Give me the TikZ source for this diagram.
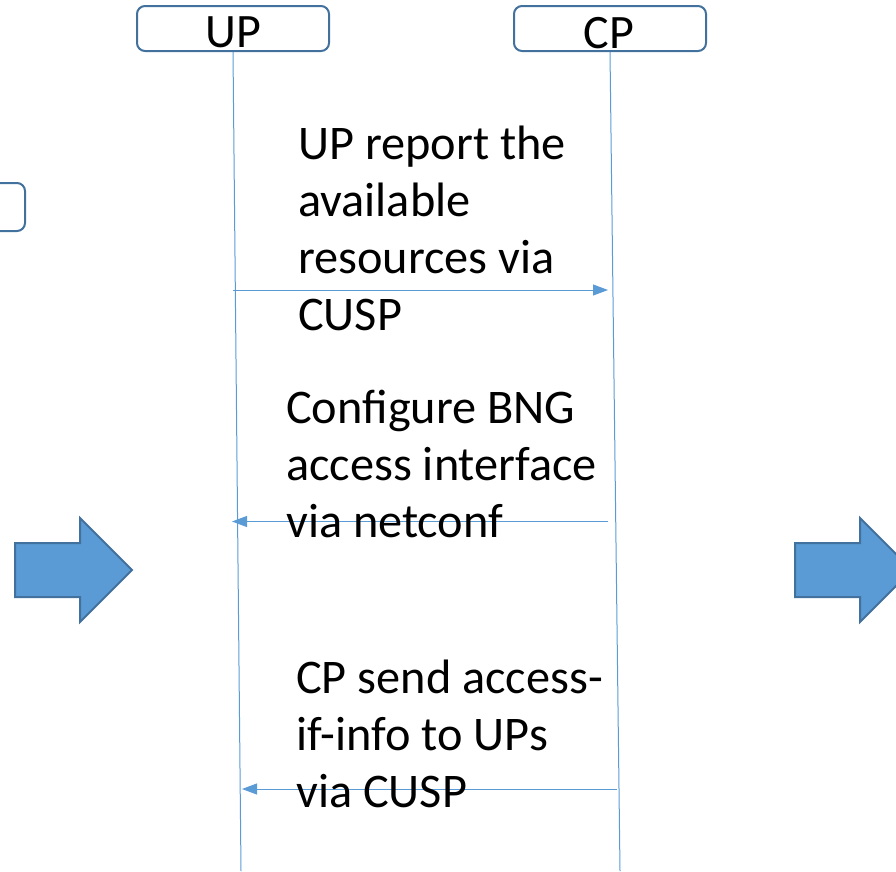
\documentclass[tikz,border=0pt]{standalone}
\usepackage{fontspec}
\setmainfont{Carlito}
\usetikzlibrary{arrows.meta}
\definecolor{lineblue}{HTML}{5B9BD5}
\definecolor{edgeblue}{HTML}{41719C}
\definecolor{fillblue}{HTML}{5B9BD5}
\tikzset{
  actor/.style={draw=edgeblue, line width=2pt, rounded corners=8pt, minimum width=192pt, minimum height=45pt, inner sep=0pt},
  actorlabel/.style={font=\fontsize{48}{50}\selectfont, anchor=base, inner sep=0pt},
  lifeline/.style={draw=lineblue, line width=1pt},
  msg/.style={draw=lineblue, line width=1pt, -{Triangle[length=15pt,width=11pt]}},
  msgtext/.style={font=\fontsize{48.3}{57}\selectfont, align=left, anchor=base west, inner sep=0pt},
  blockarrow/.style={fill=fillblue, draw=edgeblue, line width=2pt, line join=miter}
}
\begin{document}
\begin{tikzpicture}[x=1pt,y=-1pt]
\useasboundingbox (0,0) rectangle (896,871);
% actors
\node[actor] (up) at (233,28.5) {};
\node[actor] (cp) at (610,28.5) {};
\node[actorlabel] (uplbl) at (233,47) {UP};
\node[actorlabel] (cplbl) at (609,48) {CP};
% partial box at left
\draw[draw=edgeblue, line width=2pt, rounded corners=8pt] (-20,183) -- (25,183) -- (25,231) -- (-20,231);
% lifelines
\coordinate (upbot) at (241,871);
\coordinate (cpbot) at (620,871);
\draw[lifeline] (up.south) -- (upbot);
\draw[lifeline] (cp.south) -- (cpbot);
% message endpoints
\coordinate (m1s) at (233,290);
\coordinate (m1e) at (608,290);
\coordinate (m2s) at (608,521.5);
\coordinate (m2e) at (232,521.5);
\coordinate (m3s) at (617,789);
\coordinate (m3e) at (242,789);
\draw[msg] (m1s) -- (m1e);
\draw[msg] (m2s) -- (m2e);
\draw[msg] (m3s) -- (m3e);
% texts (anchor = baseline of last line)
\node[msgtext] (t1) at (298,330) {UP report the\\available\\resources via\\CUSP};
\node[msgtext] (t2) at (286,537) {Configure BNG\\access interface\\via netconf};
\node[msgtext] (t3) at (296,807) {CP send access-\\if-info to UPs\\via CUSP};
% block arrows
\draw[blockarrow] (15,543) -- (80,543) -- (80,518) -- (132,570) -- (80,622) -- (80,597) -- (15,597) -- cycle;
\draw[blockarrow] (795,543) -- (860,543) -- (860,518) -- (912,570) -- (860,622) -- (860,597) -- (795,597) -- cycle;
\end{tikzpicture}
\end{document}
